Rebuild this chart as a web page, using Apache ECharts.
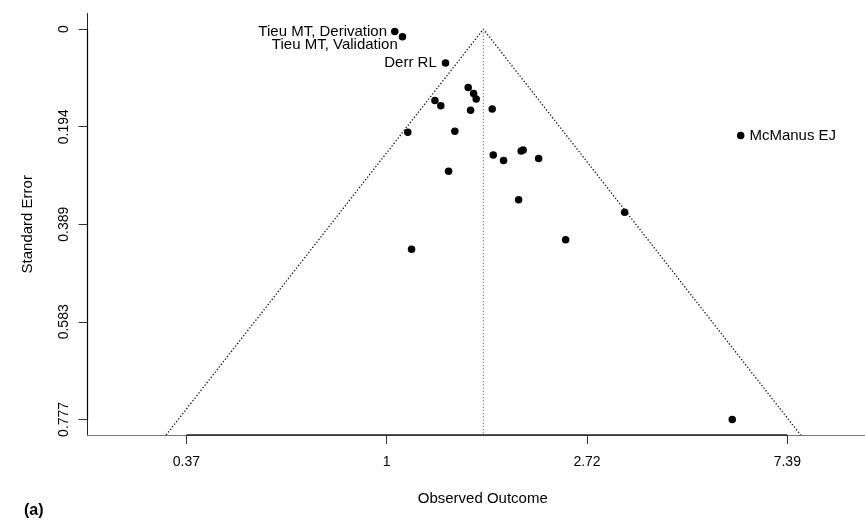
<!DOCTYPE html>
<html><head><meta charset="utf-8">
<script src="https://cdn.jsdelivr.net/npm/echarts@6/dist/echarts.min.js"></script>
<style>html,body{margin:0;padding:0;background:#fff}#c{width:865px;height:523px}</style>
</head><body><div id="c"></div>
<script>
// ---- data ----
const studyNames = ['Tieu MT, Derivation','Tieu MT, Validation','Derr RL','','','','','','','','','','','','','','','','','','','','McManus EJ',''];
const observedOutcome = [1.041,1.082,1.341,1.502,1.543,1.563,1.272,1.310,1.520,1.693,1.111,1.405,1.702,1.792,1.957,1.976,2.135,1.362,1.932,3.280,2.443,1.132,5.855,5.614];
const standardError  = [0.0048,0.0153,0.0677,0.1164,0.1283,0.1389,0.1423,0.1528,0.1614,0.1588,0.2052,0.2032,0.2504,0.2618,0.2425,0.2405,0.2578,0.2829,0.3395,0.3646,0.4192,0.4383,0.2120,0.777];
const pooledEstimate = 1.62;
const zCrit = 1.96;
const xTickValues = [Math.exp(-1), 1, Math.exp(1), Math.exp(2)];
const xTickLabels = ['0.37','1','2.72','7.39'];
const yTickValues = [0, 0.19425, 0.3885, 0.58275, 0.777];
const yTickLabels = ['0','0.194','0.389','0.583','0.777'];
const xRange = [Math.exp(-1.494), Math.exp(2.388)];
const yRange = [-0.0311, 0.8081];

// ---- styling ----
const FONT = "'Liberation Sans', Arial, Helvetica, sans-serif";
const labelStyles = {
  'Tieu MT, Derivation': {position:'left', distance:4, offset:[0,0]},
  'Tieu MT, Validation': {position:'left', distance:1, offset:[0,8]},
  'Derr RL': {position:'left', distance:5, offset:[0,0]},
  'McManus EJ': {position:'right', distance:5, offset:[0,0]}
};
function nearestLabel(vals, labs, v, log) {
  let best = 0, bd = Infinity;
  vals.forEach((t,i) => { const d = log ? Math.abs(Math.log(t)-Math.log(v)) : Math.abs(t-v); if (d < bd) { bd = d; best = i; } });
  return labs[best];
}

const points = observedOutcome.map((x,i) => {
  const item = {value:[x, standardError[i]], name: studyNames[i]};
  const ls = labelStyles[studyNames[i]];
  if (ls) item.label = {show:true, formatter:'{b}', position:ls.position, distance:ls.distance, offset:ls.offset,
    fontSize:15, fontFamily:FONT, color:'#000'};
  return item;
});

const c = Math.log(pooledEstimate);
const yBot = yRange[1];
const funnel = [[Math.exp(c - zCrit*yBot), yBot], [pooledEstimate, 0], [Math.exp(c + zCrit*yBot), yBot]];

const chart = echarts.init(document.getElementById('c'), null, {renderer:'canvas'});
chart.setOption({
  animation:false,
  backgroundColor:'#fff',
  grid:{left:87.5, top:13.5, bottom:88, right:0},
  xAxis:{
    type:'log', logBase:Math.E, min:xRange[0], max:xRange[1],
    name:'Observed Outcome', nameLocation:'middle', nameGap:56,
    nameTextStyle:{fontSize:15, color:'#000', fontFamily:FONT, padding:[0,0,0,13]},
    axisLine:{show:true, onZero:false, lineStyle:{color:'#777', width:1}},
    axisTick:{show:true, length:9, customValues:xTickValues, lineStyle:{color:'#333', width:1}},
    minorTick:{show:false},
    axisLabel:{customValues:xTickValues, fontSize:14, color:'#000', fontFamily:FONT, margin:20,
      formatter:v => nearestLabel(xTickValues, xTickLabels, v, true)},
    splitLine:{show:false}
  },
  yAxis:{
    type:'value', inverse:true, min:yRange[0], max:yRange[1],
    name:'Standard Error', nameLocation:'middle', nameGap:52, nameRotate:90,
    nameTextStyle:{fontSize:15, color:'#000', fontFamily:FONT},
    axisLine:{show:true, onZero:false, lineStyle:{color:'#222', width:1}},
    axisTick:{show:true, length:9, customValues:yTickValues, lineStyle:{color:'#333', width:1}},
    axisLabel:{customValues:yTickValues, rotate:90, fontSize:14, color:'#000', fontFamily:FONT, margin:16,
      formatter:v => nearestLabel(yTickValues, yTickLabels, v, false)},
    splitLine:{show:false}
  },
  graphic:[{type:'text', left:24, top:503, style:{text:'(a)', font:"bold 16px "+FONT, fill:'#000'}}],
  series:[
    {type:'line', data:funnel, symbol:'none', silent:true,
      lineStyle:{color:'#111', width:1.3, type:[1.3,2]}},
    {type:'line', data:[[pooledEstimate,0],[pooledEstimate,yBot]], symbol:'none', silent:true,
      lineStyle:{color:'#777', width:1.1, type:[1.2,2]}},
    {type:'line', data:[[xTickValues[0],yBot],[xTickValues[3],yBot]], symbol:'none', silent:true, clip:false,
      lineStyle:{color:'#222', width:1.4}},
    {type:'line', data:[[xRange[0],yTickValues[0]],[xRange[0],yTickValues[4]]], symbol:'none', silent:true, clip:false,
      lineStyle:{color:'#000', width:1.2}},
    {type:'scatter', data:points, symbol:'circle', symbolSize:7.5, itemStyle:{color:'#000', opacity:1}}
  ]
});
</script></body></html>
